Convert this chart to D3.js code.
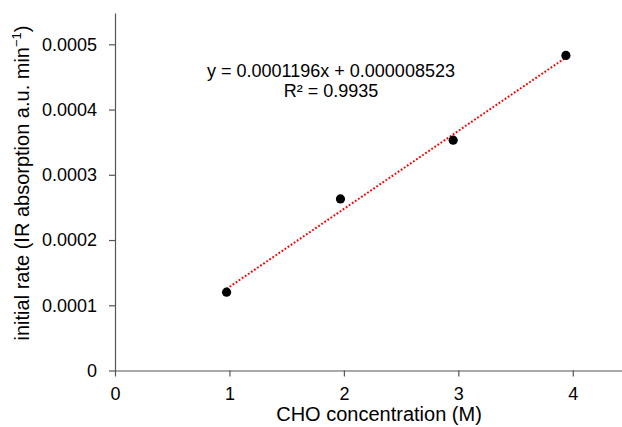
<!DOCTYPE html>
<html>
<head>
<meta charset="utf-8">
<script src="https://cdn.jsdelivr.net/npm/d3@7"></script>
<style>
  body { margin: 0; background: #fff; }
  svg text { font-family: "Liberation Sans", Arial, Helvetica, sans-serif; fill: #000; }
</style>
</head>
<body>
<svg id="chart" width="622" height="427"></svg>
<script>
// CHO concentration (M) vs initial rate, with linear fit
const concentration = [0.975, 1.97, 2.955, 3.94];
const initialRate = [0.000120, 0.000263, 0.000353, 0.000483];

const xTicks = [0, 1, 2, 3, 4];
const yTicks = [0, 0.0001, 0.0002, 0.0003, 0.0004, 0.0005];
const yTickLabels = ['0', '0.0001', '0.0002', '0.0003', '0.0004', '0.0005'];

const fitSlope = 0.0001196;
const fitIntercept = 0.000008523;
const equationLines = ['y = 0.0001196x + 0.000008523', 'R\u00b2 = 0.9935'];

const xTitle = 'CHO concentration (M)';

function main() {
    var svg = d3.select('#chart');

    var x = d3.scaleLinear().domain([0, 4.5]).range([115, 630]);
    var y = d3.scaleLinear().domain([0, 0.000548]).range([370.5, 13]);

    // axes
    var xAxis = d3.axisBottom(x).tickValues(xTicks).tickFormat(d3.format('d'))
        .tickSize(6).tickPadding(11).tickSizeOuter(0);
    var yAxis = d3.axisLeft(y).tickValues(yTicks)
        .tickFormat(function(d, i) { return yTickLabels[i]; })
        .tickSize(6).tickPadding(12).tickSizeOuter(0);

    var gx = svg.append('g').attr('transform', 'translate(0,370.5)').call(xAxis);
    var gy = svg.append('g').attr('transform', 'translate(115,0)').call(yAxis);

    [gx, gy].forEach(function(g) {
        g.selectAll('path, line').attr('stroke', '#555').attr('stroke-width', 1.2);
        g.selectAll('text').attr('font-size', 18)
            .style('font-family', '"Liberation Sans", Arial, sans-serif').attr('fill', '#000');
    });

    // axis titles
    svg.append('text')
        .attr('x', 379).attr('y', 421)
        .attr('text-anchor', 'middle').attr('font-size', 20)
        .text(xTitle);

    var yt = svg.append('text')
        .attr('transform', 'translate(29,183) rotate(-90)')
        .attr('text-anchor', 'middle').attr('font-size', 20);
    yt.append('tspan').text('initial rate (IR absorption a.u. min');
    yt.append('tspan').attr('font-size', 13).attr('dy', -8).text('\u22121');
    yt.append('tspan').attr('dy', 8).text(')');

    // trendline
    var xr = d3.extent(concentration);
    var fit = xr.map(function(v) { return [v, fitSlope * v + fitIntercept]; });
    svg.append('path')
        .datum(fit)
        .attr('d', d3.line().x(function(d) { return x(d[0]); }).y(function(d) { return y(d[1]); }))
        .attr('fill', 'none')
        .attr('stroke', '#ff0000')
        .attr('stroke-width', 2)
        .attr('stroke-dasharray', '1.8,1.9');

    // points
    svg.selectAll('circle.pt')
        .data(concentration)
        .enter().append('circle')
        .attr('class', 'pt')
        .attr('cx', function(d) { return x(d); })
        .attr('cy', function(d, i) { return y(initialRate[i]); })
        .attr('r', 4.6)
        .attr('fill', '#000');

    // equation label
    svg.selectAll('text.eq')
        .data(equationLines)
        .enter().append('text')
        .attr('class', 'eq')
        .attr('x', 331)
        .attr('y', function(d, i) { return 77 + i * 20; })
        .attr('text-anchor', 'middle')
        .attr('font-size', 18)
        .text(function(d) { return d; });
}

main();
</script>
</body>
</html>
